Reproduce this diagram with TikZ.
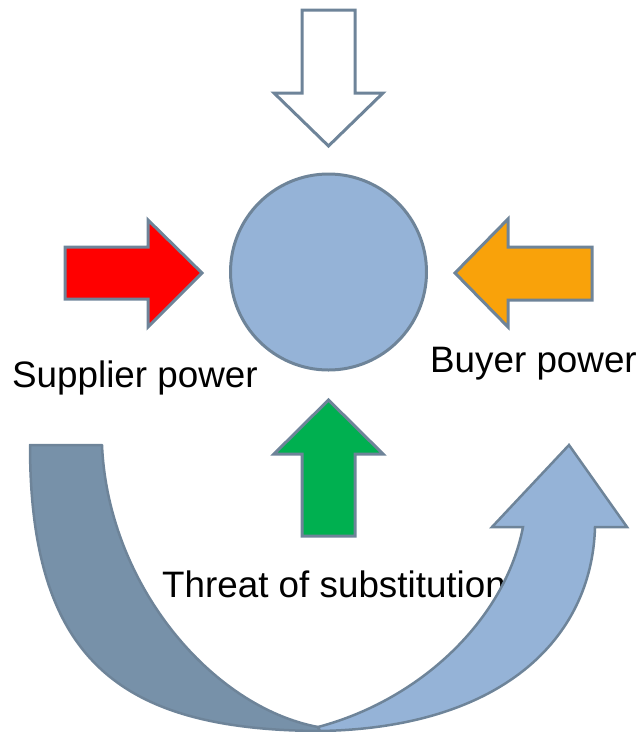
\documentclass[tikz,border=0pt]{standalone}
\usepackage{fontspec}
\setmainfont{Liberation Sans}
\definecolor{edge}{HTML}{6E8499}
\definecolor{disc}{HTML}{95B3D7}
\definecolor{bandback}{HTML}{7791A9}
\definecolor{bandfront}{HTML}{95B3D7}
\definecolor{arrred}{HTML}{FF0000}
\definecolor{arrorange}{HTML}{F9A20A}
\definecolor{arrgreen}{HTML}{00B050}
\tikzset{
  blockarrow/.style={draw=edge, line width=3pt, line join=miter},
  label/.style={font=\fontsize{36.8}{40}\selectfont, inner sep=0pt, anchor=base west},
}
\begin{document}
\begin{tikzpicture}[x=1pt,y=-1pt]
\useasboundingbox (0,0) rectangle (640,732);

% central market
\node[circle, draw=edge, line width=3pt, fill=disc, minimum size=196pt, inner sep=0pt] (firm) at (328.5,272) {};

% new entrants (top, hollow)
\draw[blockarrow, fill=white] (302,10) -- (355,10) -- (355,93) -- (383,93) -- (328.5,146)
  -- (274,93) -- (302,93) -- cycle;

% supplier arrow (red, pointing right)
\draw[blockarrow, fill=arrred] (65,247) -- (148,247) -- (148,220) -- (202,273)
  -- (148,327) -- (148,299) -- (65,299) -- cycle;

% buyer arrow (orange, pointing left)
\draw[blockarrow, fill=arrorange] (592,247) -- (508,247) -- (508,219) -- (455,273)
  -- (508,327) -- (508,300) -- (592,300) -- cycle;

% substitution arrow (green, pointing up)
\draw[blockarrow, fill=arrgreen] (302,536) -- (302,454) -- (274,454) -- (328.5,400)
  -- (383,454) -- (355,454) -- (355,536) -- cycle;

% labels
\node[label] (supplier) at (12,387) {Supplier power};
\node[label] (buyer) at (430,372) {Buyer power};
\node[label] (threat) at (162,597) {Threat of substitution};

% curved rivalry arrow: back band
\draw[draw=edge, line width=2.5pt, line join=round, fill=bandback]
  (30,445) -- (102,445) .. controls (108,585) and (212,707) .. (318,727)
  -- (320,731) .. controls (120,730) and (30,660) .. (30,445) -- cycle;

% curved rivalry arrow: front band with head
\draw[draw=edge, line width=2.5pt, line join=miter, fill=bandfront]
  (523,527) -- (492,527) -- (569,445) -- (627,527) -- (595,527)
  .. controls (592,640) and (500,728) .. (320,731)
  -- (318,727) .. controls (420,700) and (505,620) .. (523,527) -- cycle;
\end{tikzpicture}
\end{document}
